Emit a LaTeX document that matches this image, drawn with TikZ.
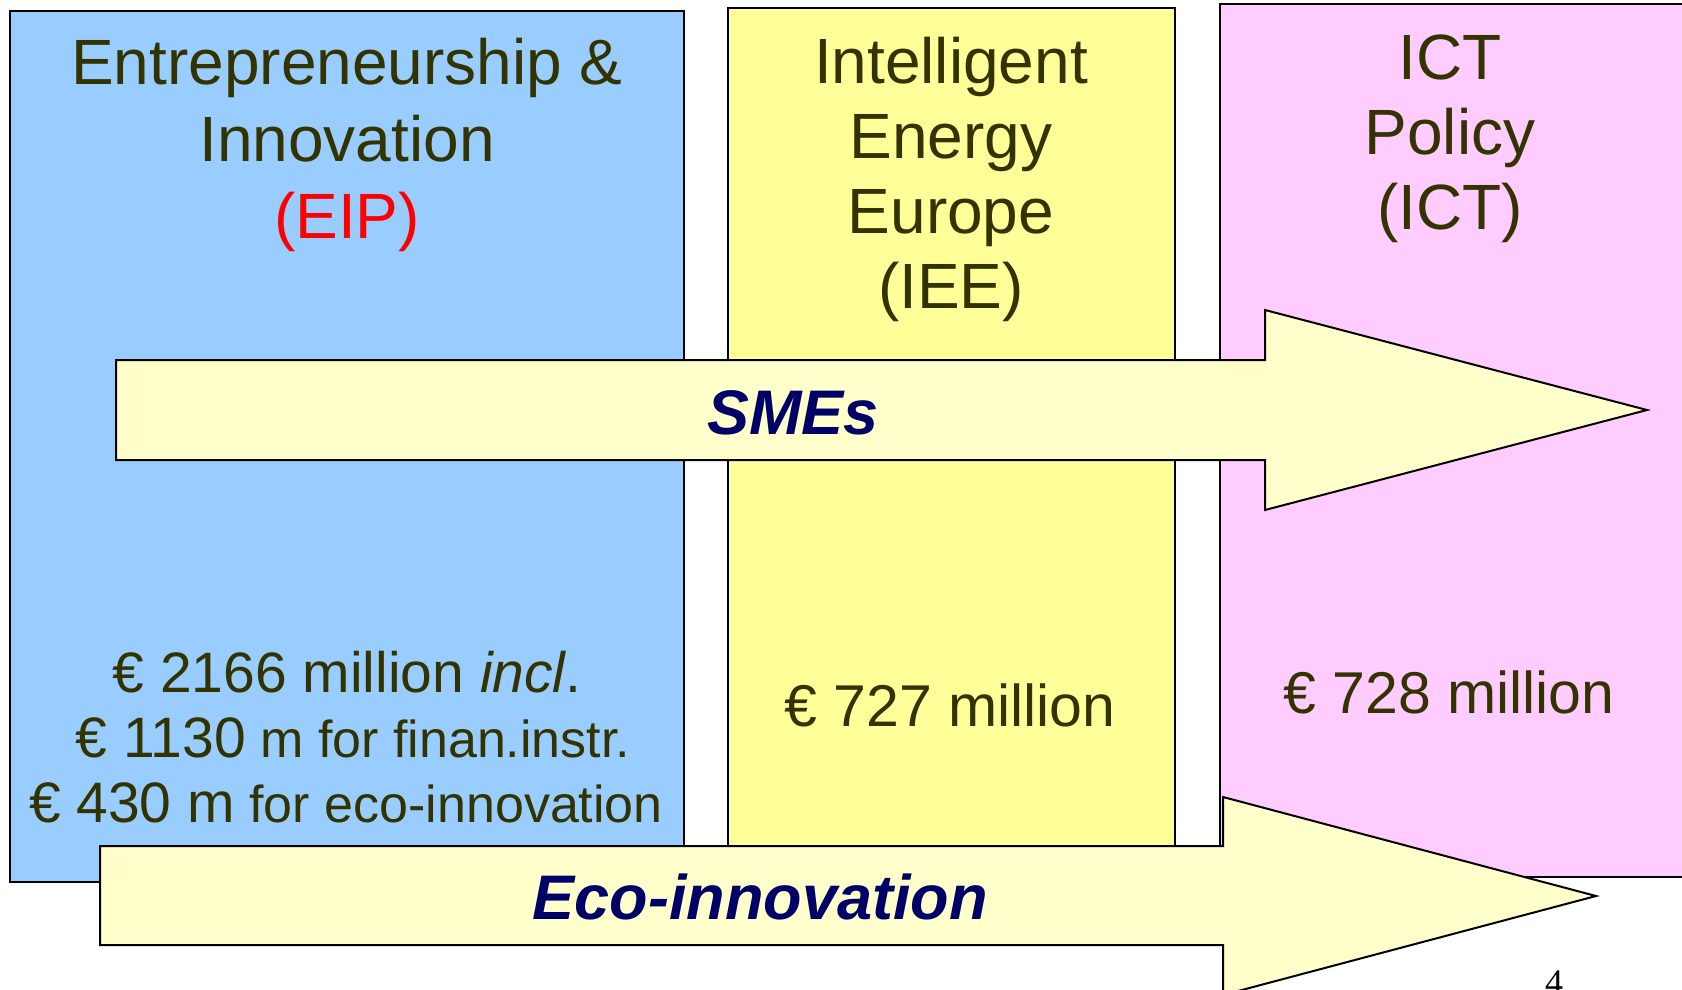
\documentclass[tikz,border=0pt]{standalone}
\usepackage{fontspec}
\setmainfont{Liberation Sans}
\newfontfamily\pagefont{Liberation Serif}
\usetikzlibrary{positioning}

\definecolor{eipblue}{HTML}{99CCFF}
\definecolor{ieeyellow}{HTML}{FFFF99}
\definecolor{ictpink}{HTML}{FFCCFF}
\definecolor{olivetext}{HTML}{333300}
\definecolor{navytext}{HTML}{000066}
\definecolor{arrowfill}{HTML}{FFFFCC}
\definecolor{arrowlight}{HTML}{FFFFE6}

\tikzset{
  programme/.style={draw=black,line width=1.5pt},
  bigarrow/.style={draw=black,line width=2pt,line join=miter,
    left color=arrowfill,middle color=arrowlight,right color=arrowfill},
  title/.style={text=olivetext,align=center,inner sep=0pt,anchor=base,
    font=\fontsize{64}{76}\selectfont},
  budget/.style={text=olivetext,inner sep=0pt,anchor=base},
  arrowlabel/.style={text=navytext,inner sep=0pt,anchor=base,
    font=\fontsize{63}{76}\selectfont\bfseries\itshape}
}
\newcommand\bigsum[1]{{\fontsize{57}{64}\selectfont #1}}

\begin{document}
\begin{tikzpicture}[x=1pt,y=-1pt]

\useasboundingbox (0,0) rectangle (1682,990);
\clip (0,0) rectangle (1682,990);

% programme columns
\path[programme,fill=eipblue]   (10,11)  rectangle (684,882);
\path[programme,fill=ieeyellow] (728,8)  rectangle (1175,870);
\path[programme,fill=ictpink]   (1220,4) rectangle (1700,877);

% titles (anchored at the last line)
\node[title,font=\fontsize{64}{77}\selectfont] (eiptitle) at (347,238)
  {Entrepreneurship \&\\Innovation\\\textcolor{red}{(EIP)}};
\node[title,font=\fontsize{64}{75}\selectfont] (ieetitle) at (951,308)
  {Intelligent\\Energy\\Europe\\(IEE)};
\node[title,font=\fontsize{64}{75}\selectfont] (icttitle) at (1450,229)
  {ICT\\Policy\\(ICT)};

% budgets
\node[budget,font=\fontsize{57}{70}\selectfont] (eipsum) at (347,692)
  {€ 2166 million \textit{incl}.};
\node[budget,font=\fontsize{52}{64}\selectfont] (eipfin) at (353,757)
  {\bigsum{€ 1130} m for finan.instr.};
\node[budget,font=\fontsize{52}{64}\selectfont] (eipeco) at (346,822)
  {\bigsum{€ 430 m} for eco-innovation};
\node[budget,font=\fontsize{59}{70}\selectfont] (ieesum) at (950,726)
  {€ 727 million};
\node[budget,font=\fontsize{59}{70}\selectfont] (ictsum) at (1449,713)
  {€ 728 million};

% cross-cutting arrows
\path[bigarrow] (116,360) -- (1265,360) -- (1265,310) -- (1647,410)
  -- (1265,510) -- (1265,460) -- (116,460) -- cycle;
\node[arrowlabel] (smes) at (793,434) {SMEs};

\path[bigarrow] (100,846) -- (1223,846) -- (1223,797) -- (1596,896)
  -- (1223,995) -- (1223,945) -- (100,945) -- cycle;
\node[arrowlabel] (eco) at (760,919) {Eco-innovation};

% page number
\node[inner sep=0pt,anchor=base west,font=\pagefont\fontsize{36}{40}\selectfont]
  (page) at (1545,994) {4};

\end{tikzpicture}
\end{document}
